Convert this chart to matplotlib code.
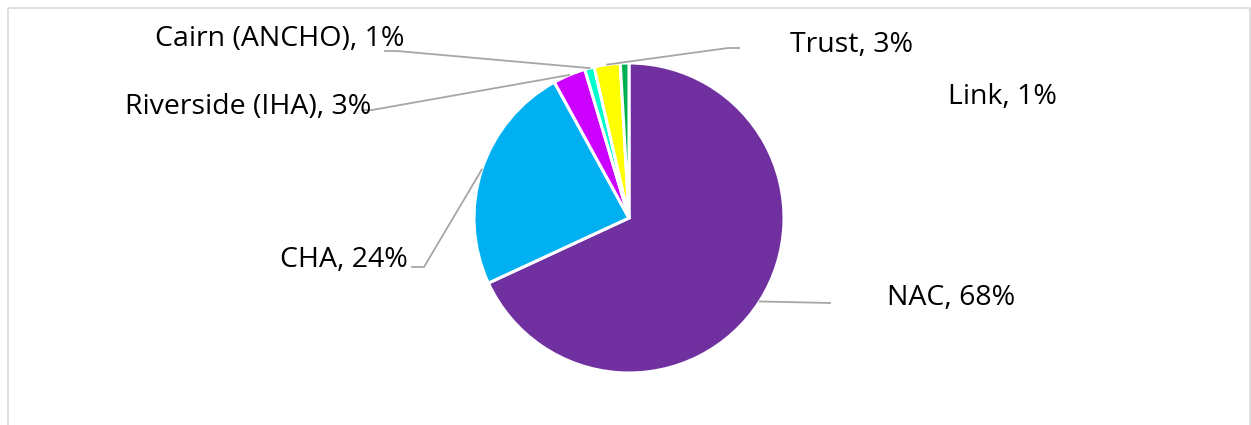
import numpy as np
import matplotlib.pyplot as plt
from matplotlib.lines import Line2D

# Данные
names = ['NAC', 'CHA', 'Riverside (IHA)', 'Cairn (ANCHO)', 'Trust', 'Link']
shares = [68.1, 23.9, 3.4, 1.0, 2.7, 0.9]
colors = ['#7030A0', '#00B0F0', '#CC00FF', '#00FFCC', '#FFFF00', '#00B050']

W, H = 1251, 425
plt.rcParams['font.family'] = ['Open Sans', 'DejaVu Sans']

fig = plt.figure(figsize=(W / 100, H / 100), dpi=100)
ax = fig.add_axes([0, 0, 1, 1])

cx, cy, r = 629, H - 218, 155
wedges, _ = ax.pie(shares, colors=colors, startangle=90, counterclock=False,
                   center=(cx, cy), radius=r, frame=True,
                   wedgeprops=dict(edgecolor='white', linewidth=2.2))

ax.set_xlim(0, W)
ax.set_ylim(0, H)
ax.set_aspect('equal')
ax.axis('off')

# рамка области диаграммы
ax.add_line(Line2D([7.5, 7.5, 1249.5, 1249.5], [0, H - 7.5, H - 7.5, 0],
                   color='#D9D9D9', lw=1.2))

# подписи: (x, y базовой линии в пикселях, выравнивание, точки выноски)
label_layout = {
    'NAC': (887, 305, 'left', [(830, 303)]),
    'CHA': (408, 267, 'right', [(424, 267), (412, 267)]),
    'Riverside (IHA)': (371, 114, 'right', [(372, 110), (362, 110)]),
    'Cairn (ANCHO)': (404, 46, 'right', [(397, 51), (385, 51)]),
    'Trust': (790, 52, 'left', [(728, 48), (739, 48)]),
    'Link': (948, 104, 'left', None),
}

for w, name, v in zip(wedges, names, shares):
    tx, ty, ha, pts = label_layout[name]
    ax.text(tx, H - ty, f"{name}, {v:.0f}%", ha=ha, va='baseline',
            fontsize=20.5, color='black')
    if pts:
        ang = np.deg2rad((w.theta1 + w.theta2) / 2)
        xs = [cx + r * np.cos(ang)] + [p[0] for p in pts]
        ys = [cy + r * np.sin(ang)] + [H - p[1] for p in pts]
        ax.plot(xs, ys, color='#A6A6A6', lw=1.3)

fig.savefig('out.png', dpi=100)
